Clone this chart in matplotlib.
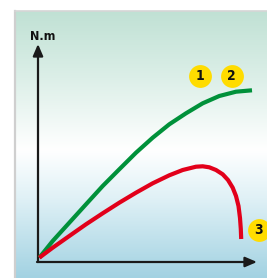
import numpy as np
import matplotlib
matplotlib.use("Agg")
import matplotlib.pyplot as plt
from matplotlib.colors import LinearSegmentedColormap

# curves (arbitrary units, origin at the axes corner)
green_x = [1.3, 14.7, 31.3, 48, 64.7, 81.3, 98, 114.7, 131.3, 148, 164.7, 181.3, 198, 214]
green_y = [3.3, 20, 38.3, 56.7, 75, 91.7, 108.3, 123.3, 136.7, 147.7, 157.7, 165, 169.3, 170.7]
red_x = [1.3, 14.7, 31.3, 48, 64.7, 81.3, 98, 114.7, 131.3, 144.7, 158, 164.7,
         171.3, 178, 184.7, 190, 194.7, 198, 200.5, 202, 202.8, 203.2]
red_y = [3.3, 13.3, 25, 36.7, 47.7, 58.3, 68.3, 77.7, 85.7, 91, 94.3, 94.7,
         93.7, 91, 86.7, 81, 73.3, 65, 55, 43, 32, 22]
badge_labels = ["1", "2", "3"]
y_label = "N.m"

fig = plt.figure(figsize=(2.67, 2.78), dpi=100)
ax = fig.add_axes([0, 0, 1, 1])
ax.set_xlim(-38, 229)
ax.set_ylim(-17, 261)
ax.axis("off")

# panel background gradient
cmap = LinearSegmentedColormap.from_list(
    "bg", [(0.0, "#a2d2e2"), (0.3, "#e0f1f6"), (0.48, "#ffffff"),
           (0.75, "#dcefe8"), (1.0, "#c0e1d4")])
grad = np.linspace(0, 1, 256).reshape(-1, 1)
ax.imshow(grad, cmap=cmap, origin="lower", aspect="auto",
          extent=[-23, 229, -17, 250], zorder=0)
ax.plot([-23, -23], [-17, 250], color="#cfcfcf", lw=1.6, zorder=1)
ax.plot([-23, 229], [250, 250], color="#d6d6d6", lw=1.2, zorder=1)

# axes with arrows
arrow = dict(arrowstyle="-|>,head_length=0.7,head_width=0.3", color="#1a1a1a",
             lw=1.6, shrinkA=0, shrinkB=0)
ax.annotate("", xy=(0, 217), xytext=(0, -1), arrowprops=arrow, zorder=3)
ax.annotate("", xy=(219, -1), xytext=(-1, -1), arrowprops=arrow, zorder=3)
ax.text(5, 224, y_label, ha="center", va="center", fontsize=9,
        fontweight="bold", fontstretch="condensed",
        family=["Liberation Sans Narrow", "DejaVu Sans"], color="#111111")

ax.plot(green_x, green_y, color="#00913a", lw=3.0, solid_capstyle="butt",
        solid_joinstyle="round", zorder=4)
ax.plot(red_x, red_y, color="#e2001a", lw=3.0, solid_capstyle="butt",
        solid_joinstyle="round", zorder=4)

# numbered badges
for lab, (bx, by) in zip(badge_labels, [(161.5, 185), (193.5, 185), (220.5, 31)]):
    ax.scatter([bx], [by], s=270, color="#ffdc00", zorder=5, linewidths=0)
    ax.text(bx, by, lab, ha="center", va="center", fontsize=10, fontweight="bold",
            fontstretch="condensed", family=["Liberation Sans Narrow", "DejaVu Sans"],
            color="#111111", zorder=6)

fig.savefig("out.png", dpi=100)
